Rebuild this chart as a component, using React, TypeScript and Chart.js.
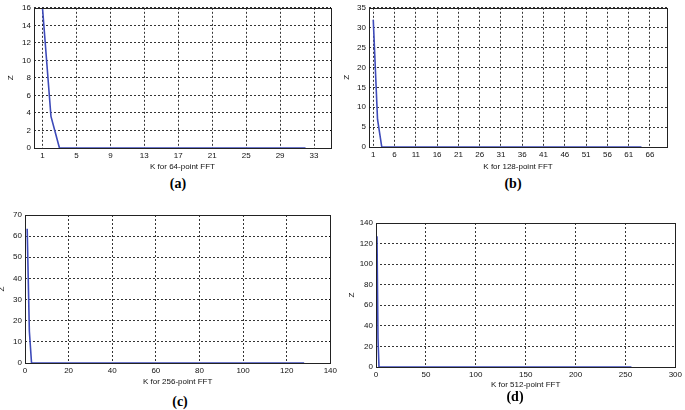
import React, { useEffect, useRef } from "react";
import { Chart, registerables } from "chart.js";

Chart.register(...registerables);

// ---- Data ----
const kA = [1, 2, 3, 32];
const zA = [16, 3.6, 0, 0];
const xTicksA = [1, 5, 9, 13, 17, 21, 25, 29, 33];
const yTicksA = [0, 2, 4, 6, 8, 10, 12, 14, 16];

const kB = [1, 2, 3, 64];
const zB = [32, 7, 0, 0];
const xTicksB = [1, 6, 11, 16, 21, 26, 31, 36, 41, 46, 51, 56, 61, 66];
const yTicksB = [0, 5, 10, 15, 20, 25, 30, 35];

const kC = [1, 2, 3, 128];
const zC = [63.5, 15, 0, 0];
const xTicksC = [0, 20, 40, 60, 80, 100, 120, 140];
const yTicksC = [0, 10, 20, 30, 40, 50, 60, 70];

const kD = [1, 2, 3, 256];
const zD = [127, 28, 0, 0];
const xTicksD = [0, 50, 100, 150, 200, 250, 300];
const yTicksD = [0, 20, 40, 60, 80, 100, 120, 140];

const titles = ["K for 64-point FFT", "K for 128-point FFT", "K for 256-point FFT", "K for 512-point FFT"];
const panelLabels = ["(a)", "(b)", "(c)", "(d)"];

type Panel = {
  k: number[]; z: number[]; xt: number[]; yt: number[];
  xMin: number; xMax: number; yMax: number;
  left: number; top: number; w: number; h: number;
  yw: number; padTop: number; padRight: number; xh: number; zPad: number;
  title: string; label: string; labelX: number; labelY: number;
};

const panels: Panel[] = [
  { k: kA, z: zA, xt: xTicksA, yt: yTicksA, xMin: 0, xMax: 35, yMax: 16,
    left: 0, top: 0, w: 340, h: 174, yw: 34, padTop: 5, padRight: 9, xh: 26, zPad: 9,
    title: titles[0], label: panelLabels[0], labelX: 178, labelY: 184 },
  { k: kB, z: zB, xt: xTicksB, yt: yTicksB, xMin: 0, xMax: 70, yMax: 35,
    left: 340, top: 0, w: 345, h: 174, yw: 29, padTop: 5, padRight: 18, xh: 27, zPad: 5,
    title: titles[1], label: panelLabels[1], labelX: 513, labelY: 184 },
  { k: kC, z: zC, xt: xTicksC, yt: yTicksC, xMin: 0, xMax: 140, yMax: 70,
    left: 0, top: 200, w: 340, h: 189, yw: 25, padTop: 15, padRight: 8, xh: 26, zPad: 0,
    title: titles[2], label: panelLabels[2], labelX: 180, labelY: 402 },
  { k: kD, z: zD, xt: xTicksD, yt: yTicksD, xMin: 0, xMax: 300, yMax: 140,
    left: 340, top: 200, w: 345, h: 192, yw: 36, padTop: 23, padRight: 8, xh: 25, zPad: 10,
    title: titles[3], label: panelLabels[3], labelX: 515, labelY: 397 },
];

const FONT = "'Liberation Sans', Arial, sans-serif";

const framePlugin = {
  id: "frame",
  afterDatasetsDraw(chart: any) {
    const { ctx, chartArea } = chart;
    ctx.save();
    ctx.strokeStyle = "#222";
    ctx.lineWidth = 1;
    ctx.setLineDash([]);
    ctx.strokeRect(Math.round(chartArea.left) + 0.5, Math.round(chartArea.top) + 0.5,
      Math.round(chartArea.right - chartArea.left), Math.round(chartArea.bottom - chartArea.top));
    ctx.restore();
  },
};

function PanelChart({ p }: { p: Panel }) {
  const ref = useRef<HTMLCanvasElement>(null);
  useEffect(() => {
    const chart = new Chart(ref.current!, {
      type: "line",
      data: {
        datasets: [{
          data: p.k.map((x, i) => ({ x, y: p.z[i] })),
          borderColor: "#3d4ab9",
          borderWidth: 1.6,
          pointRadius: 0,
          tension: 0,
          fill: false,
        }],
      },
      options: {
        animation: false,
        responsive: false,
        maintainAspectRatio: false,
        layout: { padding: { left: 0, top: p.padTop, right: p.padRight, bottom: 0 } },
        plugins: { legend: { display: false }, tooltip: { enabled: false } },
        scales: {
          x: {
            type: "linear",
            min: p.xMin, max: p.xMax,
            afterBuildTicks: (s: any) => { s.ticks = p.xt.map((v) => ({ value: v })); },
            afterFit: (s: any) => { s.height = p.xh; },
            grid: { color: "#000", lineWidth: 0.8, drawTicks: false },
            border: { display: false, dash: [2, 2] },
            ticks: { color: "#111", font: { family: FONT, size: 8 }, padding: 3, maxRotation: 0, autoSkip: false },
            title: { display: true, text: p.title, color: "#111", font: { family: FONT, size: 8 }, padding: { top: 0, bottom: 2 } },
          },
          y: {
            type: "linear",
            min: 0, max: p.yMax,
            afterBuildTicks: (s: any) => { s.ticks = p.yt.map((v) => ({ value: v })); },
            afterFit: (s: any) => { s.width = p.yw; },
            grid: { color: "#000", lineWidth: 0.8, drawTicks: false },
            border: { display: false, dash: [2, 2] },
            ticks: { color: "#111", font: { family: FONT, size: 8 }, padding: 3, autoSkip: false },
            title: { display: true, text: "Z", color: "#111", font: { family: FONT, size: 8, lineHeight: 0.5 }, padding: { top: p.zPad, bottom: 0 } },
          },
        },
      },
      plugins: [framePlugin],
    } as any);
    return () => chart.destroy();
  }, [p]);
  return (
    <canvas ref={ref} width={p.w} height={p.h}
      style={{ position: "absolute", left: p.left, top: p.top, width: p.w, height: p.h }} />
  );
}

export default function App() {
  return (
    <div style={{ position: "fixed", left: 0, top: 0, width: 685, height: 410, background: "#fff", overflow: "hidden" }}>
      {panels.map((p, i) => (
        <React.Fragment key={i}>
          <PanelChart p={p} />
          <div style={{
            position: "absolute", left: p.labelX - 20, top: p.labelY - 9, width: 40, textAlign: "center",
            fontFamily: "'Liberation Serif', 'Times New Roman', serif", fontWeight: "bold", fontSize: 14, lineHeight: "18px", color: "#000",
          }}>{p.label}</div>
        </React.Fragment>
      ))}
    </div>
  );
}
